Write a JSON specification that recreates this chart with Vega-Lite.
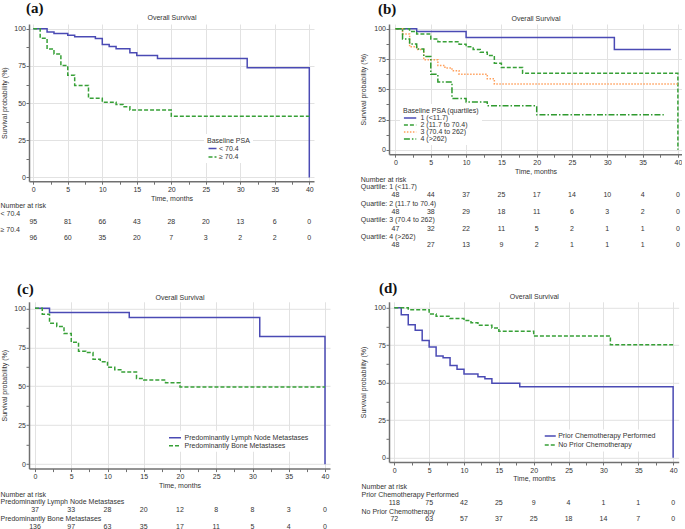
{
"$schema":"https://vega.github.io/schema/vega-lite/v6.json",
"padding":0,
"autosize":{"type":"pad"},
"background":"white",
"columns":2,
"spacing":{"row":110.8,"column":59},
"align":"all",
"bounds":"flush",
"resolve":{"scale":{"x":"independent","y":"independent","color":"independent","strokeDash":"independent"}},
"config":{
 "font":"Liberation Sans",
 "view":{"stroke":null},
 "axis":{"labelFont":"Liberation Sans","labelFontSize":7,"labelColor":"#333","titleFont":"Liberation Sans","titleFontSize":7,"titleFontWeight":"normal","titleColor":"#333","domainColor":"#707070","domainWidth":1.5,"tickColor":"#707070","tickSize":3,"tickWidth":1,"gridColor":"#e2e2e2","gridWidth":1,"labelFlush":false,"labelOverlap":false},
 "legend":{"labelFont":"Liberation Sans","labelFontSize":7,"labelColor":"#333","titleFont":"Liberation Sans","titleFontSize":7,"titleFontWeight":"normal","titleColor":"#333","symbolStrokeWidth":1.5,"fillColor":"white","padding":3}
},
"datasets":{
 "a_km":[
  {"g":"< 70.4","t":0,"s":100},{"g":"< 70.4","t":2,"s":97.9},{"g":"< 70.4","t":3,"s":96.8},{"g":"< 70.4","t":5,"s":95.7},{"g":"< 70.4","t":6,"s":94.6},{"g":"< 70.4","t":9,"s":93.4},{"g":"< 70.4","t":10,"s":89.5},{"g":"< 70.4","t":11,"s":88},{"g":"< 70.4","t":12,"s":86.5},{"g":"< 70.4","t":14,"s":83.8},{"g":"< 70.4","t":15,"s":82},{"g":"< 70.4","t":18,"s":80},{"g":"< 70.4","t":31,"s":73.8},{"g":"< 70.4","t":40,"s":73.8},{"g":"< 70.4","t":40,"s":0},
  {"g":"≥ 70.4","t":0,"s":100},{"g":"≥ 70.4","t":1,"s":93.6},{"g":"≥ 70.4","t":2,"s":86.4},{"g":"≥ 70.4","t":3,"s":83.1},{"g":"≥ 70.4","t":4,"s":75.3},{"g":"≥ 70.4","t":5,"s":68.8},{"g":"≥ 70.4","t":6,"s":61.9},{"g":"≥ 70.4","t":8,"s":53.2},{"g":"≥ 70.4","t":10,"s":50.6},{"g":"≥ 70.4","t":12,"s":49.1},{"g":"≥ 70.4","t":13,"s":47.6},{"g":"≥ 70.4","t":14,"s":45.4},{"g":"≥ 70.4","t":20,"s":41.2},{"g":"≥ 70.4","t":40,"s":41.2}
 ],
 "a_risk":[
  {"r":"< 70.4","t":0,"n":95},{"r":"< 70.4","t":5,"n":81},{"r":"< 70.4","t":10,"n":66},{"r":"< 70.4","t":15,"n":43},{"r":"< 70.4","t":20,"n":28},{"r":"< 70.4","t":25,"n":20},{"r":"< 70.4","t":30,"n":13},{"r":"< 70.4","t":35,"n":6},{"r":"< 70.4","t":40,"n":0},
  {"r":"≥ 70.4","t":0,"n":96},{"r":"≥ 70.4","t":5,"n":60},{"r":"≥ 70.4","t":10,"n":35},{"r":"≥ 70.4","t":15,"n":20},{"r":"≥ 70.4","t":20,"n":7},{"r":"≥ 70.4","t":25,"n":3},{"r":"≥ 70.4","t":30,"n":2},{"r":"≥ 70.4","t":35,"n":2},{"r":"≥ 70.4","t":40,"n":0}
 ],
 "b_km":[
  {"g":"1 (<11.7)","t":0,"s":100},{"g":"1 (<11.7)","t":3,"s":97.9},{"g":"1 (<11.7)","t":10,"s":92.8},{"g":"1 (<11.7)","t":31,"s":83},{"g":"1 (<11.7)","t":39,"s":83},
  {"g":"2 (11.7 to 70.4)","t":0,"s":100},{"g":"2 (11.7 to 70.4)","t":2,"s":97.9},{"g":"2 (11.7 to 70.4)","t":3,"s":95.8},{"g":"2 (11.7 to 70.4)","t":5,"s":91.7},{"g":"2 (11.7 to 70.4)","t":6,"s":89.4},{"g":"2 (11.7 to 70.4)","t":9,"s":87.3},{"g":"2 (11.7 to 70.4)","t":10,"s":85.1},{"g":"2 (11.7 to 70.4)","t":11,"s":82.9},{"g":"2 (11.7 to 70.4)","t":12,"s":80.6},{"g":"2 (11.7 to 70.4)","t":13,"s":78},{"g":"2 (11.7 to 70.4)","t":14,"s":71.6},{"g":"2 (11.7 to 70.4)","t":15,"s":68},{"g":"2 (11.7 to 70.4)","t":18,"s":63.3},{"g":"2 (11.7 to 70.4)","t":40,"s":63.3},{"g":"2 (11.7 to 70.4)","t":40,"s":0},
  {"g":"3 (70.4 to 262)","t":0,"s":100},{"g":"3 (70.4 to 262)","t":1,"s":95.7},{"g":"3 (70.4 to 262)","t":2,"s":85.1},{"g":"3 (70.4 to 262)","t":3,"s":83},{"g":"3 (70.4 to 262)","t":4,"s":74.4},{"g":"3 (70.4 to 262)","t":6,"s":69.8},{"g":"3 (70.4 to 262)","t":7,"s":67.7},{"g":"3 (70.4 to 262)","t":8,"s":65.4},{"g":"3 (70.4 to 262)","t":9,"s":62.5},{"g":"3 (70.4 to 262)","t":13,"s":58.7},{"g":"3 (70.4 to 262)","t":14,"s":54.4},{"g":"3 (70.4 to 262)","t":40,"s":54.4},
  {"g":"4 (>262)","t":0,"s":100},{"g":"4 (>262)","t":1,"s":91.7},{"g":"4 (>262)","t":2,"s":87.5},{"g":"4 (>262)","t":3,"s":83.3},{"g":"4 (>262)","t":4,"s":77.1},{"g":"4 (>262)","t":5,"s":62.5},{"g":"4 (>262)","t":6,"s":56},{"g":"4 (>262)","t":8,"s":42.5},{"g":"4 (>262)","t":10,"s":39.6},{"g":"4 (>262)","t":13,"s":36.4},{"g":"4 (>262)","t":20,"s":28.9},{"g":"4 (>262)","t":38,"s":28.9}
 ],
 "b_risk":[
  {"r":"Quartile: 1 (<11.7)","t":0,"n":48},{"r":"Quartile: 1 (<11.7)","t":5,"n":44},{"r":"Quartile: 1 (<11.7)","t":10,"n":37},{"r":"Quartile: 1 (<11.7)","t":15,"n":25},{"r":"Quartile: 1 (<11.7)","t":20,"n":17},{"r":"Quartile: 1 (<11.7)","t":25,"n":14},{"r":"Quartile: 1 (<11.7)","t":30,"n":10},{"r":"Quartile: 1 (<11.7)","t":35,"n":4},{"r":"Quartile: 1 (<11.7)","t":40,"n":0},
  {"r":"Quartile: 2 (11.7 to 70.4)","t":0,"n":48},{"r":"Quartile: 2 (11.7 to 70.4)","t":5,"n":38},{"r":"Quartile: 2 (11.7 to 70.4)","t":10,"n":29},{"r":"Quartile: 2 (11.7 to 70.4)","t":15,"n":18},{"r":"Quartile: 2 (11.7 to 70.4)","t":20,"n":11},{"r":"Quartile: 2 (11.7 to 70.4)","t":25,"n":6},{"r":"Quartile: 2 (11.7 to 70.4)","t":30,"n":3},{"r":"Quartile: 2 (11.7 to 70.4)","t":35,"n":2},{"r":"Quartile: 2 (11.7 to 70.4)","t":40,"n":0},
  {"r":"Quartile: 3 (70.4 to 262)","t":0,"n":47},{"r":"Quartile: 3 (70.4 to 262)","t":5,"n":32},{"r":"Quartile: 3 (70.4 to 262)","t":10,"n":22},{"r":"Quartile: 3 (70.4 to 262)","t":15,"n":11},{"r":"Quartile: 3 (70.4 to 262)","t":20,"n":5},{"r":"Quartile: 3 (70.4 to 262)","t":25,"n":2},{"r":"Quartile: 3 (70.4 to 262)","t":30,"n":1},{"r":"Quartile: 3 (70.4 to 262)","t":35,"n":1},{"r":"Quartile: 3 (70.4 to 262)","t":40,"n":0},
  {"r":"Quartile: 4 (>262)","t":0,"n":48},{"r":"Quartile: 4 (>262)","t":5,"n":27},{"r":"Quartile: 4 (>262)","t":10,"n":13},{"r":"Quartile: 4 (>262)","t":15,"n":9},{"r":"Quartile: 4 (>262)","t":20,"n":2},{"r":"Quartile: 4 (>262)","t":25,"n":1},{"r":"Quartile: 4 (>262)","t":30,"n":1},{"r":"Quartile: 4 (>262)","t":35,"n":1},{"r":"Quartile: 4 (>262)","t":40,"n":0}
 ],
 "c_km":[
  {"g":"Predominantly Lymph Node Metastases","t":0,"s":100},{"g":"Predominantly Lymph Node Metastases","t":2,"s":97.3},{"g":"Predominantly Lymph Node Metastases","t":13,"s":94.1},{"g":"Predominantly Lymph Node Metastases","t":31,"s":82},{"g":"Predominantly Lymph Node Metastases","t":40,"s":82},{"g":"Predominantly Lymph Node Metastases","t":40,"s":0},
  {"g":"Predominantly Bone Metastases","t":0,"s":100},{"g":"Predominantly Bone Metastases","t":1,"s":96.2},{"g":"Predominantly Bone Metastases","t":2,"s":90.4},{"g":"Predominantly Bone Metastases","t":3,"s":88.4},{"g":"Predominantly Bone Metastases","t":4,"s":83.8},{"g":"Predominantly Bone Metastases","t":5,"s":78.2},{"g":"Predominantly Bone Metastases","t":6,"s":72.5},{"g":"Predominantly Bone Metastases","t":7,"s":71.6},{"g":"Predominantly Bone Metastases","t":8,"s":67.3},{"g":"Predominantly Bone Metastases","t":9,"s":65.8},{"g":"Predominantly Bone Metastases","t":10,"s":62.2},{"g":"Predominantly Bone Metastases","t":11,"s":60.6},{"g":"Predominantly Bone Metastases","t":12,"s":59.1},{"g":"Predominantly Bone Metastases","t":14,"s":55},{"g":"Predominantly Bone Metastases","t":15,"s":54},{"g":"Predominantly Bone Metastases","t":18,"s":52.2},{"g":"Predominantly Bone Metastases","t":20,"s":49.6},{"g":"Predominantly Bone Metastases","t":40,"s":49.6}
 ],
 "c_risk":[
  {"r":"Predominantly Lymph Node Metastases","t":0,"n":37},{"r":"Predominantly Lymph Node Metastases","t":5,"n":33},{"r":"Predominantly Lymph Node Metastases","t":10,"n":28},{"r":"Predominantly Lymph Node Metastases","t":15,"n":20},{"r":"Predominantly Lymph Node Metastases","t":20,"n":12},{"r":"Predominantly Lymph Node Metastases","t":25,"n":8},{"r":"Predominantly Lymph Node Metastases","t":30,"n":8},{"r":"Predominantly Lymph Node Metastases","t":35,"n":3},{"r":"Predominantly Lymph Node Metastases","t":40,"n":0},
  {"r":"Predominantly Bone Metastases","t":0,"n":136},{"r":"Predominantly Bone Metastases","t":5,"n":97},{"r":"Predominantly Bone Metastases","t":10,"n":63},{"r":"Predominantly Bone Metastases","t":15,"n":35},{"r":"Predominantly Bone Metastases","t":20,"n":17},{"r":"Predominantly Bone Metastases","t":25,"n":11},{"r":"Predominantly Bone Metastases","t":30,"n":5},{"r":"Predominantly Bone Metastases","t":35,"n":4},{"r":"Predominantly Bone Metastases","t":40,"n":0}
 ],
 "d_km":[
  {"g":"Prior Chemotherapy Performed","t":0,"s":100},{"g":"Prior Chemotherapy Performed","t":1,"s":95.3},{"g":"Prior Chemotherapy Performed","t":2,"s":88.6},{"g":"Prior Chemotherapy Performed","t":3,"s":84.9},{"g":"Prior Chemotherapy Performed","t":4,"s":78.2},{"g":"Prior Chemotherapy Performed","t":5,"s":73.8},{"g":"Prior Chemotherapy Performed","t":6,"s":67.8},{"g":"Prior Chemotherapy Performed","t":7,"s":66.6},{"g":"Prior Chemotherapy Performed","t":8,"s":61.5},{"g":"Prior Chemotherapy Performed","t":9,"s":59},{"g":"Prior Chemotherapy Performed","t":10,"s":55.8},{"g":"Prior Chemotherapy Performed","t":12,"s":54},{"g":"Prior Chemotherapy Performed","t":13,"s":52.7},{"g":"Prior Chemotherapy Performed","t":14,"s":49.7},{"g":"Prior Chemotherapy Performed","t":18,"s":47.3},{"g":"Prior Chemotherapy Performed","t":40,"s":47.3},{"g":"Prior Chemotherapy Performed","t":40,"s":0},
  {"g":"No Prior Chemotherapy","t":0,"s":100},{"g":"No Prior Chemotherapy","t":2,"s":98.6},{"g":"No Prior Chemotherapy","t":5,"s":95.8},{"g":"No Prior Chemotherapy","t":6,"s":94.3},{"g":"No Prior Chemotherapy","t":8,"s":92.8},{"g":"No Prior Chemotherapy","t":10,"s":91.4},{"g":"No Prior Chemotherapy","t":11,"s":90},{"g":"No Prior Chemotherapy","t":12,"s":88.3},{"g":"No Prior Chemotherapy","t":14,"s":86.5},{"g":"No Prior Chemotherapy","t":15,"s":84.3},{"g":"No Prior Chemotherapy","t":20,"s":81.1},{"g":"No Prior Chemotherapy","t":31,"s":75.3},{"g":"No Prior Chemotherapy","t":40,"s":75.3}
 ],
 "d_risk":[
  {"r":"Prior Chemotherapy Performed","t":0,"n":118},{"r":"Prior Chemotherapy Performed","t":5,"n":75},{"r":"Prior Chemotherapy Performed","t":10,"n":42},{"r":"Prior Chemotherapy Performed","t":15,"n":25},{"r":"Prior Chemotherapy Performed","t":20,"n":9},{"r":"Prior Chemotherapy Performed","t":25,"n":4},{"r":"Prior Chemotherapy Performed","t":30,"n":1},{"r":"Prior Chemotherapy Performed","t":35,"n":1},{"r":"Prior Chemotherapy Performed","t":40,"n":0},
  {"r":"No Prior Chemotherapy","t":0,"n":72},{"r":"No Prior Chemotherapy","t":5,"n":63},{"r":"No Prior Chemotherapy","t":10,"n":57},{"r":"No Prior Chemotherapy","t":15,"n":37},{"r":"No Prior Chemotherapy","t":20,"n":25},{"r":"No Prior Chemotherapy","t":25,"n":18},{"r":"No Prior Chemotherapy","t":30,"n":14},{"r":"No Prior Chemotherapy","t":35,"n":7},{"r":"No Prior Chemotherapy","t":40,"n":0}
 ]
},
"concat":[
 {
  "title":{"text":"(a)","anchor":"start","frame":"group","font":"Liberation Serif","fontSize":15,"fontWeight":"bold","color":"#111","dx":-3,"offset":-2},
  "width":285,"height":157.2,
  "resolve":{"scale":{"y":"independent"},"axis":{"x":"independent","y":"independent"}},
  "layer":[
   {"data":{"name":"a_km"},"mark":{"type":"line","interpolate":"step-after","strokeWidth":1.5},
    "encoding":{
     "x":{"field":"t","type":"quantitative","scale":{"domain":[-0.62,40.68],"nice":false,"zero":false},
      "axis":{"values":[0,2.5,5,7.5,10,12.5,15,17.5,20,22.5,25,27.5,30,32.5,35,37.5,40],"labelExpr":"datum.value % 5 === 0 ? datum.label : ''","gridOpacity":{"condition":{"test":"datum.value % 5 !== 0","value":0},"value":1},"title":"Time, months","labelPadding":1,"titleY":17.3,"titleBaseline":"middle"}},
     "y":{"field":"s","type":"quantitative","scale":{"domain":[-2.5,103.2],"nice":false,"zero":false},
      "axis":{"values":[0,12.5,25,37.5,50,62.5,75,87.5,100],"labelExpr":"datum.value % 25 === 0 ? datum.label : ''","gridOpacity":{"condition":{"test":"datum.value % 25 !== 0","value":0},"value":1},"title":"Survival probability (%)","labelPadding":0.5,"titleX":-25,"titleBaseline":"middle"}},
     "color":{"field":"g","type":"nominal","scale":{"domain":["< 70.4","≥ 70.4"],"range":["#4a4ab4","#37a037"]},
      "legend":{"title":"Baseline PSA","orient":"none","legendX":175,"legendY":110,"symbolType":"M-1,0H3","symbolSize":16,"rowPadding":0.5,"titlePadding":1,"labelOffset":5}},
     "strokeDash":{"field":"g","type":"nominal","scale":{"domain":["< 70.4","≥ 70.4"],"range":[[1,0],[4,2]]},
      "legend":{"title":"Baseline PSA","orient":"none","legendX":175,"legendY":110,"symbolType":"M-1,0H3","symbolSize":16,"rowPadding":0.5,"titlePadding":1,"labelOffset":5}},
     "order":{"value":null}}},
   {"data":{"name":"a_risk"},"mark":{"type":"text","fontSize":7,"color":"#333","baseline":"middle","align":"center"},
    "encoding":{
     "x":{"field":"t","type":"quantitative","scale":{"domain":[-0.62,40.68],"nice":false,"zero":false},
      "axis":{"orient":"top","title":"Overall Survival","labels":false,"ticks":false,"domain":false,"grid":false,"titleY":-6.2,"titleBaseline":"middle"}},
     "y":{"field":"r","type":"nominal","scale":{"type":"point","domain":["< 70.4","≥ 70.4"],"range":[197.8,213.8],"padding":0},
      "axis":{"orient":"left","title":"Number at risk","titleAngle":0,"titleAlign":"left","titleBaseline":"middle","titleX":-29,"titleY":181.5,"labelAlign":"left","labelBaseline":"middle","labelOffset":-8.5,"labelPadding":29,"ticks":false,"domain":false,"grid":false,"labelLimit":300}},
     "text":{"field":"n","type":"nominal"}}}
  ]
 },
 {
  "title":{"text":"(b)","anchor":"start","frame":"group","font":"Liberation Serif","fontSize":15,"fontWeight":"bold","color":"#111","dx":-11,"offset":-2},
  "width":293,"height":130.2,
  "resolve":{"scale":{"y":"independent"},"axis":{"x":"independent","y":"independent"}},
  "layer":[
   {"data":{"name":"b_km"},"mark":{"type":"line","interpolate":"step-after","strokeWidth":1.5},
    "encoding":{
     "x":{"field":"t","type":"quantitative","scale":{"domain":[-0.92,40.58],"nice":false,"zero":false},
      "axis":{"values":[0,2.5,5,7.5,10,12.5,15,17.5,20,22.5,25,27.5,30,32.5,35,37.5,40],"labelExpr":"datum.value % 5 === 0 ? datum.label : ''","gridOpacity":{"condition":{"test":"datum.value % 5 !== 0","value":0},"value":1},"title":"Time, months","labelPadding":1,"titleY":17.6,"titleBaseline":"middle"}},
     "y":{"field":"s","type":"quantitative","scale":{"domain":[-3.6,104],"nice":false,"zero":false},
      "axis":{"values":[0,12.5,25,37.5,50,62.5,75,87.5,100],"labelExpr":"datum.value % 25 === 0 ? datum.label : ''","gridOpacity":{"condition":{"test":"datum.value % 25 !== 0","value":0},"value":1},"title":"Survival probability (%)","labelPadding":0.5,"titleX":-25.3,"titleBaseline":"middle"}},
     "color":{"field":"g","type":"nominal","scale":{"domain":["1 (<11.7)","2 (11.7 to 70.4)","3 (70.4 to 262)","4 (>262)"],"range":["#4a4ab4","#37a037","#ffa05c","#2f9a2f"]},
      "legend":{"title":"Baseline PSA (quartiles)","orient":"none","legendX":11,"legendY":80,"symbolType":"M-1,0H3","symbolSize":38,"rowPadding":0,"titlePadding":0,"labelOffset":9.5}},
     "strokeDash":{"field":"g","type":"nominal","scale":{"domain":["1 (<11.7)","2 (11.7 to 70.4)","3 (70.4 to 262)","4 (>262)"],"range":[[1,0],[4,2],[1.5,1.5],[6,2,1.5,2]]},
      "legend":{"title":"Baseline PSA (quartiles)","orient":"none","legendX":11,"legendY":80,"symbolType":"M-1,0H3","symbolSize":38,"rowPadding":0,"titlePadding":0,"labelOffset":9.5}},
     "order":{"value":null}}},
   {"data":{"name":"b_risk"},"mark":{"type":"text","fontSize":7,"color":"#333","baseline":"middle","align":"center"},
    "encoding":{
     "x":{"field":"t","type":"quantitative","scale":{"domain":[-0.92,40.58],"nice":false,"zero":false},
      "axis":{"orient":"top","title":"Overall Survival","labels":false,"ticks":false,"domain":false,"grid":false,"titleY":-5.5,"titleBaseline":"middle"}},
     "y":{"field":"r","type":"nominal","scale":{"type":"point","domain":["Quartile: 1 (<11.7)","Quartile: 2 (11.7 to 70.4)","Quartile: 3 (70.4 to 262)","Quartile: 4 (>262)"],"range":[171.2,221.2],"padding":0},
      "axis":{"orient":"left","title":"Number at risk","titleAngle":0,"titleAlign":"left","titleBaseline":"middle","titleX":-28.7,"titleY":155.5,"labelAlign":"left","labelBaseline":"middle","labelOffset":-8.7,"labelPadding":28.7,"ticks":false,"domain":false,"grid":false,"labelLimit":300}},
     "text":{"field":"n","type":"nominal"}}}
  ]
 },
 {
  "title":{"text":"(c)","anchor":"start","frame":"group","font":"Liberation Serif","fontSize":15,"fontWeight":"bold","color":"#111","dx":-12,"offset":-4},
  "width":301,"height":166.8,
  "resolve":{"scale":{"y":"independent"},"axis":{"x":"independent","y":"independent"}},
  "layer":[
   {"data":{"name":"c_km"},"mark":{"type":"line","interpolate":"step-after","strokeWidth":1.5},
    "encoding":{
     "x":{"field":"t","type":"quantitative","scale":{"domain":[-0.83,40.69],"nice":false,"zero":false},
      "axis":{"values":[0,2.5,5,7.5,10,12.5,15,17.5,20,22.5,25,27.5,30,32.5,35,37.5,40],"labelExpr":"datum.value % 5 === 0 ? datum.label : ''","gridOpacity":{"condition":{"test":"datum.value % 5 !== 0","value":0},"value":1},"title":"Time, months","labelPadding":1,"titleY":17.4,"titleBaseline":"middle"}},
     "y":{"field":"s","type":"quantitative","scale":{"domain":[-2.8,104.2],"nice":false,"zero":false},
      "axis":{"values":[0,12.5,25,37.5,50,62.5,75,87.5,100],"labelExpr":"datum.value % 25 === 0 ? datum.label : ''","gridOpacity":{"condition":{"test":"datum.value % 25 !== 0","value":0},"value":1},"title":"Survival probability (%)","labelPadding":0.5,"titleX":-25,"titleBaseline":"middle"}},
     "color":{"field":"g","type":"nominal","scale":{"domain":["Predominantly Lymph Node Metastases","Predominantly Bone Metastases"],"range":["#4a4ab4","#37a037"]},
      "legend":{"title":null,"orient":"none","legendX":136,"legendY":129,"symbolType":"M-1,0H3","symbolSize":36,"rowPadding":1,"labelOffset":8.5}},
     "strokeDash":{"field":"g","type":"nominal","scale":{"domain":["Predominantly Lymph Node Metastases","Predominantly Bone Metastases"],"range":[[1,0],[4,2]]},
      "legend":{"title":null,"orient":"none","legendX":136,"legendY":129,"symbolType":"M-1,0H3","symbolSize":36,"rowPadding":1,"labelOffset":8.5}},
     "order":{"value":null}}},
   {"data":{"name":"c_risk"},"mark":{"type":"text","fontSize":7,"color":"#333","baseline":"middle","align":"center"},
    "encoding":{
     "x":{"field":"t","type":"quantitative","scale":{"domain":[-0.83,40.69],"nice":false,"zero":false},
      "axis":{"orient":"top","title":"Overall Survival","labels":false,"ticks":false,"domain":false,"grid":false,"titleY":-4.8,"titleBaseline":"middle"}},
     "y":{"field":"r","type":"nominal","scale":{"type":"point","domain":["Predominantly Lymph Node Metastases","Predominantly Bone Metastases"],"range":[208.5,225.5],"padding":0},
      "axis":{"orient":"left","title":"Number at risk","titleAngle":0,"titleAlign":"left","titleBaseline":"middle","titleX":-29,"titleY":192.2,"labelAlign":"left","labelBaseline":"middle","labelOffset":-8.5,"labelPadding":29,"ticks":false,"domain":false,"grid":false,"labelLimit":300}},
     "text":{"field":"n","type":"nominal"}}}
  ]
 },
 {
  "title":{"text":"(d)","anchor":"start","frame":"group","font":"Liberation Serif","fontSize":15,"fontWeight":"bold","color":"#111","dx":-10,"offset":-4},
  "width":289.7,"height":160.2,
  "resolve":{"scale":{"y":"independent"},"axis":{"x":"independent","y":"independent"}},
  "layer":[
   {"data":{"name":"d_km"},"mark":{"type":"line","interpolate":"step-after","strokeWidth":1.5},
    "encoding":{
     "x":{"field":"t","type":"quantitative","scale":{"domain":[-0.76,40.8],"nice":false,"zero":false},
      "axis":{"values":[0,2.5,5,7.5,10,12.5,15,17.5,20,22.5,25,27.5,30,32.5,35,37.5,40],"labelExpr":"datum.value % 5 === 0 ? datum.label : ''","gridOpacity":{"condition":{"test":"datum.value % 5 !== 0","value":0},"value":1},"title":"Time, months","labelPadding":1,"titleY":16.6,"titleBaseline":"middle"}},
     "y":{"field":"s","type":"quantitative","scale":{"domain":[-2.8,103.9],"nice":false,"zero":false},
      "axis":{"values":[0,12.5,25,37.5,50,62.5,75,87.5,100],"labelExpr":"datum.value % 25 === 0 ? datum.label : ''","gridOpacity":{"condition":{"test":"datum.value % 25 !== 0","value":0},"value":1},"title":"Survival probability (%)","labelPadding":0.5,"titleX":-25.3,"titleBaseline":"middle"}},
     "color":{"field":"g","type":"nominal","scale":{"domain":["Prior Chemotherapy Performed","No Prior Chemotherapy"],"range":["#4a4ab4","#37a037"]},
      "legend":{"title":null,"orient":"none","legendX":152,"legendY":127.75,"symbolType":"M-1,0H3","symbolSize":30.25,"rowPadding":1,"labelOffset":7.2}},
     "strokeDash":{"field":"g","type":"nominal","scale":{"domain":["Prior Chemotherapy Performed","No Prior Chemotherapy"],"range":[[1,0],[4,2]]},
      "legend":{"title":null,"orient":"none","legendX":152,"legendY":127.75,"symbolType":"M-1,0H3","symbolSize":30.25,"rowPadding":1,"labelOffset":7.2}},
     "order":{"value":null}}},
   {"data":{"name":"d_risk"},"mark":{"type":"text","fontSize":7,"color":"#333","baseline":"middle","align":"center"},
    "encoding":{
     "x":{"field":"t","type":"quantitative","scale":{"domain":[-0.76,40.8],"nice":false,"zero":false},
      "axis":{"orient":"top","title":"Overall Survival","labels":false,"ticks":false,"domain":false,"grid":false,"titleY":-5.5,"titleBaseline":"middle"}},
     "y":{"field":"r","type":"nominal","scale":{"type":"point","domain":["Prior Chemotherapy Performed","No Prior Chemotherapy"],"range":[200.8,217.5],"padding":0},
      "axis":{"orient":"left","title":"Number at risk","titleAngle":0,"titleAlign":"left","titleBaseline":"middle","titleX":-28,"titleY":184.2,"labelAlign":"left","labelBaseline":"middle","labelOffset":-8.3,"labelPadding":28,"ticks":false,"domain":false,"grid":false,"labelLimit":300}},
     "text":{"field":"n","type":"nominal"}}}
  ]
 }
]
}
